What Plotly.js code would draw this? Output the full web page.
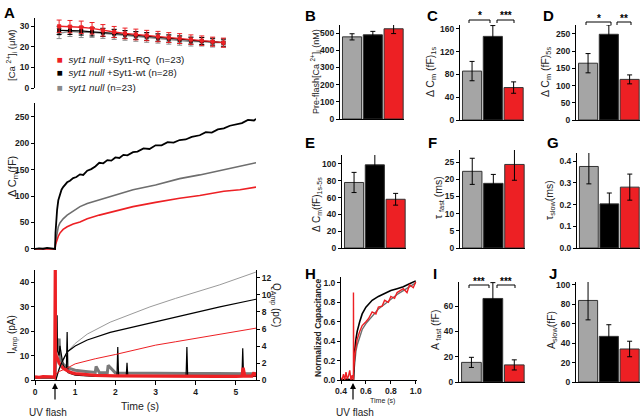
<!DOCTYPE html>
<html>
<head>
<meta charset="utf-8">
<script src="https://cdn.plot.ly/plotly-3.0.1.min.js"></script>
<style>
  html, body { margin: 0; padding: 0; background: #fff; }
  #fig { width: 640px; height: 418px; }
</style>
</head>
<body>
<div id="fig"></div>
<script>
// ---- data ----
const caTime = [0.6, 0.87, 1.15, 1.42, 1.69, 1.97, 2.24, 2.51, 2.78, 3.06, 3.33, 3.6, 3.88, 4.15, 4.42, 4.69];
const caRQ   = [30, 29.8, 29.5, 29, 28, 27.2, 26.5, 26, 25.5, 25, 24.5, 24, 23.5, 23, 22.5, 22];
const caWT   = [28, 28, 27.7, 27.3, 27, 26.5, 26, 25.5, 25, 24.5, 24, 23.5, 23, 22.8, 22.5, 22];
const caNull = [26.5, 27.5, 27, 27, 26.5, 26, 25.5, 25, 24.5, 24, 23.5, 23, 22.5, 22.5, 22, 22];
const caRQErr = [3, 3, 3, 2.8, 2.8, 2.7, 2.6, 2.6, 2.5, 2.5, 2.4, 2.4, 2.3, 2.3, 2.2, 2.2];
const caWTErr = [2, 2, 2, 2, 2, 2, 1.9, 1.9, 1.9, 1.8, 1.8, 1.8, 1.7, 1.7, 1.7, 1.7];
const caNullErr = [2.5, 2.5, 2.5, 2.4, 2.4, 2.4, 2.3, 2.3, 2.3, 2.2, 2.2, 2.2, 2.1, 2.1, 2.1, 2.1];

const cmTimeWT = [0, 0.1, 0.2, 0.3, 0.4, 0.48, 0.5, 0.51, 0.52, 0.53, 0.55, 0.58, 0.62, 0.66, 0.7, 0.75, 0.8, 0.87, 0.95, 1.03, 1.12, 1.2, 1.3, 1.4, 1.5, 1.6, 1.7, 1.8, 1.9, 2.0, 2.1, 2.2, 2.3, 2.44, 2.55, 2.7, 2.85, 3.0, 3.15, 3.3, 3.45, 3.6, 3.75, 3.9, 4.1, 4.25, 4.4, 4.55, 4.7, 4.85, 5.0, 5.15, 5.3, 5.45, 5.5];
const cmWT = [0, 1, 0, 2, 1, 0, 0, 30, 45, 55, 74, 92, 104, 112, 117, 121, 126, 129, 134, 136, 141, 140, 148, 151, 156, 163, 162, 168, 167, 173, 172, 178, 177, 183, 184, 190, 189, 196, 196, 202, 201, 206, 207, 212, 215, 221, 220, 226, 228, 233, 235, 238, 244, 243, 246];
const cmTime = [0, 0.2, 0.4, 0.5, 0.51, 0.53, 0.55, 0.58, 0.62, 0.7, 0.8, 0.95, 1.12, 1.3, 1.6, 2.0, 2.44, 3.0, 3.6, 4.1, 4.7, 5.1, 5.5];
const cmNull = [0, 1, 0, 0, 12, 22, 32, 42, 49, 57, 64, 72, 80, 86, 93, 103, 112, 121, 133, 140, 150, 156, 163];
const cmRQ   = [0, 0, 1, 0, 8, 13, 17, 24, 30, 37, 42, 47, 51, 57, 64, 71, 80, 88, 96, 101, 109, 112, 117];

const iTimeRQ = [0, 0.1, 0.2, 0.3, 0.4, 0.49, 0.5, 0.505, 0.51, 0.53, 0.56, 0.6, 0.65, 0.7, 0.8, 0.9, 1.0, 1.2, 1.5, 2.0, 2.5, 3.0, 3.5, 4.0, 4.5, 5.0, 5.15, 5.18, 5.22, 5.4, 5.45, 5.5];
const iRQ = [1.3, 1.1, 1.4, 1.2, 1.3, 1.2, 48, 48, 11, 10, 8.5, 7, 5.8, 4.8, 3.8, 3.0, 2.6, 2.2, 1.9, 1.7, 1.6, 1.6, 1.5, 1.5, 1.5, 1.5, 1.6, 5, 1.6, 1.6, 3, 1.5];
const iTimeNull = [0, 0.49, 0.5, 0.52, 0.55, 0.58, 0.6, 0.62, 0.65, 0.7, 0.8, 0.9, 1.0, 1.2, 1.4, 1.5, 1.52, 1.6, 1.8, 1.82, 2.0, 2.5, 3.0, 3.5, 4.0, 4.5, 5.0, 5.5];
const iNull = [1, 1, 1, 10, 17, 14, 17, 9, 8, 6.5, 5, 4.5, 4, 3.6, 3.3, 3.1, 5.5, 3.1, 3, 6, 2.9, 2.8, 2.8, 2.7, 2.7, 2.7, 2.6, 2.6];
const iTimeWT = [0, 0.5, 0.53, 0.55, 0.56, 0.6, 0.62, 0.7, 0.78, 0.8, 0.82, 1.0, 1.5, 2.04, 2.06, 2.08, 2.27, 2.29, 2.31, 3.0, 3.76, 3.78, 3.8, 4.5, 5.15, 5.17, 5.19, 5.5];
const iWT = [1, 1, 20, 26.5, 12, 10, 14, 6, 4, 19.6, 3, 2, 1.5, 1.5, 13.5, 1.5, 1.5, 7, 1.5, 1.5, 1.5, 13.5, 1.5, 1.5, 1.5, 13, 1.5, 1.5];

const qTime = [0.52, 0.55, 0.6, 0.7, 0.8, 1.0, 1.3, 1.87, 2.6, 2.86, 3.5, 4.0, 4.6, 5.5];
const qNull = [0, 0.6, 1.2, 2.3, 3.3, 4.3, 5.4, 6.8, 8.1, 8.6, 9.6, 10.3, 11.2, 12.7];
const qWT   = [0, 0.5, 1.3, 2.4, 3.3, 4.0, 4.7, 5.6, 6.4, 6.7, 7.4, 8.0, 8.6, 9.5];
const qTimeRQ = [0.5, 0.52, 0.6, 0.8, 1.0, 1.5, 2.0, 2.6, 3.0, 3.5, 4.0, 4.6, 5.5];
const qRQ = [0, 0.7, 1.0, 1.4, 1.9, 2.5, 3.0, 3.7, 4.1, 4.5, 4.9, 5.4, 6.1];

const hTime = [0.4, 0.45, 0.49, 0.5, 0.505, 0.51, 0.52, 0.53, 0.55, 0.57, 0.6, 0.65, 0.7, 0.75, 0.8, 0.85, 0.9, 0.95, 1.0];
const hWT   = [0, 0.01, 0, 0, 0.15, 0.3, 0.42, 0.5, 0.6, 0.68, 0.75, 0.82, 0.86, 0.89, 0.92, 0.94, 0.96, 0.99, 1.02];
const hNull = [0, 0, 0, 0, 0.1, 0.2, 0.3, 0.36, 0.45, 0.52, 0.58, 0.66, 0.73, 0.78, 0.83, 0.88, 0.92, 0.96, 1.0];
const hTimeRQ = [0.4, 0.41, 0.42, 0.43, 0.44, 0.45, 0.46, 0.47, 0.48, 0.49, 0.5, 0.5, 0.502, 0.51, 0.52, 0.53, 0.55, 0.57, 0.6, 0.62, 0.65, 0.68, 0.7, 0.73, 0.75, 0.78, 0.8, 0.83, 0.85, 0.88, 0.9, 0.93, 0.95, 0.98, 1.0];
const hRQ = [0.02, 0.01, 0.06, 0.0, 0.08, 0.01, 0.04, 0.1, 0.0, 0.05, 0.0, 0.9, 0.1, 0.25, 0.35, 0.42, 0.5, 0.56, 0.6, 0.63, 0.7, 0.68, 0.75, 0.76, 0.82, 0.8, 0.86, 0.84, 0.9, 0.92, 0.94, 0.9, 0.98, 0.95, 1.01];

const groups = [0, 1, 2]; // syt1 null, +Syt1-wt, +Syt1-RQ
const preflashCa = [478, 490, 525], preflashCaErr = [18, 20, 28];
const cm1s = [86, 147, 57], cm1sErr = [17, 19, 10];
const cm5s = [165, 249, 118], cm5sErr = [28, 27, 13];
const cm1to5 = [78, 99, 58], cm1to5Err = [12, 13, 7];
const tauFast = [22.3, 18.8, 24.3], tauFastErr = [3.8, 2.6, 4.6];
const tauSlow = [0.375, 0.203, 0.28], tauSlowErr = [0.08, 0.05, 0.06];
const aFast = [15.5, 66, 13.5], aFastErr = [4, 12.5, 4];
const aSlow = [84, 47, 34], aSlowErr = [20, 12, 8];

// ---- styling ----
const RED = '#ed2024', BLACK = '#000000', GRAY = '#a5a5a5', TRACEGRAY = '#6e6e6e';
const barColors = [GRAY, BLACK, RED];
const FONT = 'Liberation Sans, Arial, sans-serif';
const W = 640, H = 418;
const fx = p => p / W;
const fy = p => 1 - p / H;
const tickFont = {family: FONT, size: 8.5, color: '#1a1a1a', weight: 'bold'};

function xAxis(left, right, anchor, range, extra) {
  return Object.assign({domain: [fx(left), fx(right)], anchor: anchor, range: range,
    showline: true, linecolor: '#000', linewidth: 1, showgrid: false, zeroline: false,
    ticks: '', showticklabels: false, fixedrange: true}, extra || {});
}
function yAxis(top, bottom, anchor, range, dtick, extra) {
  return Object.assign({domain: [fy(bottom), fy(top)], anchor: anchor, range: range,
    tick0: 0, dtick: dtick, showline: true, linecolor: '#000', linewidth: 1,
    showgrid: false, zeroline: false, ticks: 'outside', ticklen: 3, tickwidth: 1,
    tickcolor: '#000', tickfont: tickFont, fixedrange: true}, extra || {});
}

const data = [];
function line(x, y, xa, ya, color, width) {
  data.push({x: x, y: y, xaxis: xa, yaxis: ya, type: 'scatter', mode: 'lines',
    line: {color: color, width: width}, hoverinfo: 'skip', showlegend: false});
}
function caTrace(y, err, color) {
  data.push({x: caTime, y: y, xaxis: 'x', yaxis: 'y', type: 'scatter', mode: 'lines+markers',
    line: {color: color, width: 1.3}, marker: {symbol: 'square', size: 4, color: color},
    error_y: {type: 'data', array: err, color: color, thickness: 1, width: 2.5},
    hoverinfo: 'skip', showlegend: false});
}
function bars(n, vals, errs) {
  data.push({x: groups, y: vals, xaxis: 'x' + n, yaxis: 'y' + n, type: 'bar', width: 0.92,
    marker: {color: barColors, line: {color: '#333', width: 1}},
    error_y: {type: 'data', array: errs, color: '#000', thickness: 1, width: 2.5},
    hoverinfo: 'skip', showlegend: false});
}

// Panel A
caTrace(caNull, caNullErr, '#8a8a8a');
caTrace(caWT, caWTErr, BLACK);
caTrace(caRQ, caRQErr, RED);
line(cmTime, cmNull, 'x2', 'y2', TRACEGRAY, 1.6);
line(cmTime, cmRQ, 'x2', 'y2', RED, 1.6);
line(cmTimeWT, cmWT, 'x2', 'y2', BLACK, 1.8);
line(iTimeNull, iNull, 'x3', 'y3', '#7a7a7a', 3);
line(iTimeWT, iWT, 'x3', 'y3', BLACK, 1.2);
line(iTimeRQ, iRQ, 'x3', 'y3', RED, 3.2);
line(qTime, qNull, 'x3', 'y4', '#9a9a9a', 1);
line(qTime, qWT, 'x3', 'y4', BLACK, 1.2);
line(qTimeRQ, qRQ, 'x3', 'y4', RED, 1);
// Panel H
line(hTime, hNull, 'x11', 'y11', TRACEGRAY, 1.4);
line(hTime, hWT, 'x11', 'y11', BLACK, 1.6);
line(hTimeRQ, hRQ, 'x11', 'y11', RED, 1.4);
// bar panels
bars(5, preflashCa, preflashCaErr);
bars(6, cm1s, cm1sErr);
bars(7, cm5s, cm5sErr);
bars(8, cm1to5, cm1to5Err);
bars(9, tauFast, tauFastErr);
bars(10, tauSlow, tauSlowErr);
bars(12, aFast, aFastErr);
bars(13, aSlow, aSlowErr);

const barRange = [-0.58, 2.5];
const layout = {
  width: W, height: H, margin: {l: 0, r: 0, t: 0, b: 0},
  paper_bgcolor: '#fff', plot_bgcolor: 'rgba(0,0,0,0)', showlegend: false,
  font: {family: FONT, color: '#222'},
  xaxis: xAxis(35, 256, 'y', [0, 5.5], {visible: false}),
  yaxis: yAxis(18, 88, 'x', [0, 34], 10),
  xaxis2: xAxis(35, 256, 'y2', [0, 5.5], {visible: false}),
  yaxis2: yAxis(103, 250, 'x2', [-2, 276], 50),
  xaxis3: xAxis(35, 256, 'y3', [0, 5.5], {ticks: 'outside', ticklen: 4, tickcolor: '#000',
    showticklabels: true, tickfont: tickFont, tick0: 0, dtick: 1}),
  yaxis3: yAxis(270, 380, 'x3', [0, 45], 10),
  yaxis4: yAxis(270, 380, 'x3', [0, 12.94], 2, {overlaying: 'y3', side: 'right'}),
  xaxis5: xAxis(340, 404, 'y5', barRange),
  yaxis5: yAxis(25, 119, 'x5', [0, 547], 100),
  xaxis6: xAxis(460, 524, 'y6', barRange),
  yaxis6: yAxis(25, 120, 'x6', [0, 167], 40),
  xaxis7: xAxis(576, 640, 'y7', barRange),
  yaxis7: yAxis(25, 120, 'x7', [0, 276], 50),
  xaxis8: xAxis(342, 406, 'y8', barRange),
  yaxis8: yAxis(155, 248, 'x8', [0, 110.7], 20),
  xaxis9: xAxis(460, 525, 'y9', barRange),
  yaxis9: yAxis(150, 248, 'x9', [0, 28.5], 5),
  xaxis10: xAxis(577, 640, 'y10', barRange),
  yaxis10: yAxis(153, 248, 'x10', [0, 0.437], 0.1, {tickformat: '.1f'}),
  xaxis11: xAxis(341, 417, 'y11', [0.4, 1.01], {ticks: 'outside', ticklen: 3, tickcolor: '#000',
    showticklabels: true, tickfont: tickFont, tick0: 0.4, dtick: 0.2, tickformat: '.1f'}),
  yaxis11: yAxis(277, 380, 'x11', [0, 1.06], 0.2, {tickformat: '.1f'}),
  xaxis12: xAxis(459, 525, 'y12', barRange),
  yaxis12: yAxis(282, 382, 'x12', [0, 79], 20),
  xaxis13: xAxis(576, 640, 'y13', barRange),
  yaxis13: yAxis(282, 382, 'x13', [0, 103], 20),
  annotations: [],
  shapes: []
};

function label(text, x, y, size, extra) {
  layout.annotations.push(Object.assign({text: text, x: fx(x), y: fy(y), xref: 'paper', yref: 'paper',
    showarrow: false, xanchor: 'center', yanchor: 'middle',
    font: {family: FONT, size: size, color: '#222'}}, extra || {}));
}
function vlabel(text, x, y, size, angle) {
  label(text, x, y, size, {textangle: angle === undefined ? -90 : angle});
}
function letter(ch, x, y) {
  label(ch, x, y, 15, {font: {family: FONT, size: 15, color: '#000', weight: 'bold'}});
}
function bracket(x0, x1, y, stars) {
  const p = 'M' + fx(x0) + ',' + fy(y + 3) + ' L' + fx(x0) + ',' + fy(y) + ' L' + fx(x1) + ',' + fy(y) + ' L' + fx(x1) + ',' + fy(y + 3);
  layout.shapes.push({type: 'path', path: p, xref: 'paper', yref: 'paper', line: {color: '#000', width: 1}});
  label(stars, (x0 + x1) / 2, y - 4, 10, {font: {family: FONT, size: 10, color: '#000', weight: 'bold'}});
}
function arrowUp(x, yTip, yTail) {
  layout.annotations.push({text: '', x: fx(x), y: fy(yTip), xref: 'paper', yref: 'paper',
    showarrow: true, arrowhead: 2, arrowsize: 1, arrowwidth: 1.2, arrowcolor: '#000',
    ax: 0, ay: yTail - yTip});
}

// panel letters
letter('A', 9, 12); letter('B', 310, 15); letter('C', 432, 15); letter('D', 548, 15);
letter('E', 310, 143); letter('F', 432, 142); letter('G', 553, 142);
letter('H', 310, 273); letter('I', 435, 273); letter('J', 553, 273);

// legend
const legendRows = [
  [RED, '+Syt1-RQ  (n=23)', 59],
  [BLACK, '+Syt1-wt (n=28)', 73],
  ['#8a8a8a', '(n=23)', 87]
];
legendRows.forEach(r => {
  label('<span style="color:' + r[0] + '">■</span>  <i>syt1 null</i> ' + r[1], 55, r[2], 9.8, {xanchor: 'left'});
});

// axis titles
vlabel('[Ca <sup>2+</sup>]<sub>i</sub> (μM)', 12, 55, 9.5);
vlabel('Δ C<sub>m</sub>(fF)', 13, 177, 11);
vlabel('I<sub>Amp</sub> (pA)', 12, 335, 10);
vlabel('Q<sub>Amp</sub> (pC)', 276, 305, 10, 90);
label('Time (s)', 140, 406, 10.5);
label('UV flash', 48, 412, 10);
arrowUp(55, 383, 401);
vlabel('Pre-flash[Ca <sup>2+</sup>]<sub>i</sub> (nM)', 315, 72, 9);
vlabel('Δ C<sub>m</sub> (fF)<sub>1s</sub>', 431, 72, 10.5);
vlabel('Δ C<sub>m</sub> (fF)<sub>5s</sub>', 546, 72, 10.5);
vlabel('Δ C<sub>m</sub>(fF)<sub>1s-5s</sub>', 317, 205, 10);
vlabel('τ <sub>fast</sub> (ms)', 439, 198, 10.5);
vlabel('τ<sub>slow</sub>(ms)', 550, 200, 10.5);
vlabel('Normalized Capacitance', 318, 328, 8.5, -90);
layout.annotations[layout.annotations.length - 1].font.weight = 'bold';
label('Time (s)', 382, 401, 7);
label('UV flash', 355, 412, 10);
arrowUp(353, 383, 401);
vlabel('A <sub>fast</sub> (fF)', 436, 330, 10.5);
vlabel('A<sub>slow</sub>(fF)', 552, 330, 10.5);

// significance
bracket(469, 490, 20, '*');
bracket(497, 514, 20, '***');
bracket(586, 611, 22, '*');
bracket(617, 631, 22, '**');
bracket(469, 489, 285, '***');
bracket(497, 515, 285, '***');

Plotly.newPlot('fig', data, layout, {staticPlot: true, displayModeBar: false});
</script>
</body>
</html>
